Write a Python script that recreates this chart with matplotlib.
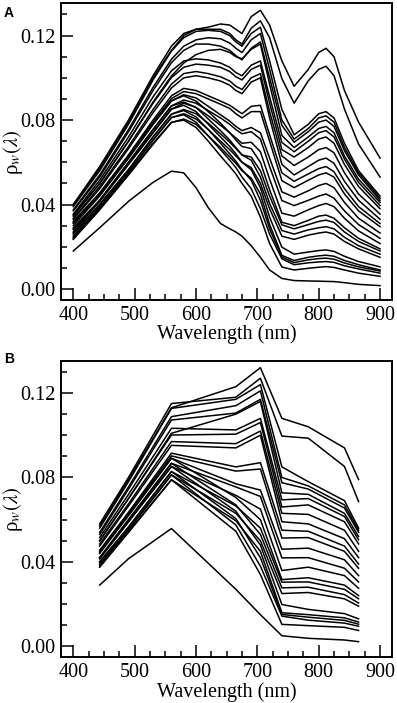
import numpy as np
import matplotlib.pyplot as plt
from matplotlib.ticker import MultipleLocator, FormatStrFormatter

plt.rcParams['font.family'] = ['Liberation Serif', 'DejaVu Serif']
plt.rcParams['mathtext.fontset'] = 'stix'

# sampling wavelengths (nm) of the in situ spectra
wavelength = [400, 443, 490, 530, 560, 580, 600, 620, 640, 655, 665, 675,
              690, 705, 720, 740, 760, 783, 800, 812, 825, 842, 865, 900]

# Sentinel-2 MSI band centres used in panel B
msi_bands = [443, 490, 560, 665, 705, 740, 783, 842, 865]

# rho_w x 1000, one row per station
rho_w_x1000 = [
    [40, 57, 79, 100, 113, 120, 123, 124, 125.5, 125, 123, 121, 129, 132, 125, 108, 96, 104, 112, 114, 110, 94, 79, 62],
    [40, 58, 80, 101, 115, 121, 123, 123, 123, 121, 118, 116, 123.5, 127, 119, 99.6, 88, 98.6, 104, 105.5, 101, 85.2, 68.6, 53],
    [39, 56, 78, 99, 112.7, 119, 122, 122.5, 122, 120, 117, 115, 121, 124, 108, 85, 73, 78, 83, 84, 81, 69, 56, 44],
    [37.5, 54, 75.5, 95.5, 108.8, 115, 118, 119, 118.5, 116.5, 114, 112, 118, 121, 104, 80, 71, 76, 81, 82, 79, 67, 55, 43],
    [37, 53, 74.5, 94, 107.2, 113, 116, 116, 115, 113, 110.5, 108.5, 114, 117, 100, 77.5, 69.5, 74.5, 79, 80, 77, 65.5, 54, 42],
    [35, 50, 70, 88.5, 100.9, 107, 111, 113, 113.5, 112, 110, 109, 113.5, 116, 97, 72.7, 67, 72, 76, 77, 74, 63, 52, 41],
    [35.5, 51.5, 72, 91, 103.3, 108, 109, 108.5, 107, 105, 102.5, 101, 106, 108, 91, 69.4, 65, 70, 74, 75, 72, 61.5, 50.5, 39.5],
    [34.5, 50, 70, 88, 100.1, 105, 106.5, 106, 105, 103, 100.5, 99, 104, 106, 88, 66, 62.5, 67, 71, 72, 69, 59, 48.5, 38],
    [33.5, 48.5, 67.5, 85, 97, 102, 103, 102, 100.5, 98.5, 96, 94.5, 100, 102, 84, 63, 58.5, 62.5, 66, 67, 64.5, 55, 45, 35.5],
    [33, 47.5, 66.5, 83.5, 95.2, 100, 101, 100, 98.5, 96.5, 94, 92.5, 98, 100, 81, 59, 54, 58, 61, 62, 59.5, 51, 42, 33],
    [32, 45.5, 63.5, 80, 91.5, 95, 94, 91.5, 89, 87, 85, 83, 86.5, 87, 73, 55, 51, 54.5, 57, 58, 55.5, 47.5, 39, 31],
    [31.5, 45, 63, 79, 90.2, 93.5, 92.5, 90, 87.5, 85.5, 83, 81, 84, 84, 70, 51.3, 48, 51.5, 54, 55, 53, 45, 37, 29.5],
    [31, 44.5, 62, 78, 89.1, 92, 90.5, 86.5, 82.5, 79.5, 77, 75, 76.5, 74, 62, 46, 43.5, 46.5, 49, 50, 48, 41, 33.5, 26.5],
    [29, 42, 60, 75.5, 86.7, 89.5, 88, 84.5, 81, 78, 75.5, 73.5, 74.5, 71, 58, 41.9, 39.5, 42, 44, 45, 43, 37, 30.5, 24],
    [28.5, 41.5, 59, 74, 85.2, 88, 86, 82, 77.5, 74, 71.5, 69, 69.5, 65, 52, 35.9, 34.5, 37.5, 39.5, 40.5, 39, 33.5, 27.5, 21.5],
    [30, 44, 62, 78, 89.1, 91.5, 89, 84, 78.5, 74, 70.5, 67.5, 66.5, 60, 47, 31.6, 30, 32.5, 34.5, 35, 33.5, 29, 24, 19],
    [26.5, 40, 56.5, 72, 82.8, 85, 83, 78.5, 73.5, 69.5, 66.5, 63.5, 62.5, 56, 44, 30.4, 28.5, 30.5, 32, 32.6, 31.5, 27, 22.5, 18],
    [28, 42, 60, 75.5, 86.7, 88.5, 86, 80.5, 75, 70.5, 67, 63.5, 61, 53, 40.5, 27.7, 26, 28, 29, 29.5, 28.5, 24.5, 20.5, 16.5],
    [25, 39, 55.5, 70.5, 81.2, 83, 80.5, 75.5, 70, 66, 63, 60, 57.5, 50, 38, 25, 23.5, 25.5, 26.5, 27, 26, 22.5, 19, 15],
    [27, 41.5, 59, 74, 85.2, 87, 84, 78, 72, 67.5, 64, 60, 56.5, 48, 34, 19.8, 16.5, 17.5, 18.2, 18.5, 17.8, 15.5, 13, 10.5],
    [23.5, 37.5, 54, 68.5, 78.9, 80.5, 78, 72.5, 67, 62.5, 59.5, 56, 52.5, 45, 30.5, 15.9, 13.5, 15, 15.7, 16, 15.5, 13.5, 11.5, 9],
    [26, 40, 56.5, 72, 82.8, 84.5, 81.5, 75.5, 69, 64, 60.5, 56.5, 51.5, 42, 28.5, 15.1, 12.5, 13.8, 14.4, 14.6, 14.1, 12.3, 10.5, 8.5],
    [24.5, 38.5, 55, 70.5, 81.2, 82.5, 79, 72.5, 66, 61, 57.5, 53, 47.5, 38, 26, 14.3, 11.5, 12.4, 12.8, 13, 12.6, 11, 9.5, 7.5],
    [24, 37.7, 54.2, 69, 78.9, 80, 76.5, 70, 63, 58, 54.5, 50, 44, 34, 21.5, 10.4, 9, 9.8, 10.3, 10.6, 10.2, 9, 7.5, 6],
    [18, 29, 41.5, 50.5, 55.8, 55, 48, 38.5, 31, 28.5, 27, 25, 20.5, 15, 9, 5, 4, 3.8, 3.7, 3.6, 3.5, 3, 2.2, 1.6],
]

spectra = np.array(rho_w_x1000) / 1000.0
band_idx = [wavelength.index(b) for b in msi_bands]

fig = plt.figure(figsize=(3.97, 7.03), dpi=100)
ax_a = fig.add_axes([0.1537, 0.5733, 0.8345, 0.4220])
ax_b = fig.add_axes([0.1537, 0.0650, 0.8345, 0.4219])

for s in spectra:
    ax_a.plot(wavelength, s, color='k', lw=1.1)
    ax_b.plot(msi_bands, s[band_idx], color='k', lw=1.1)

for ax in (ax_a, ax_b):
    ax.set_xlim(380, 920)
    ax.set_ylim(-0.0052, 0.1353)
    ax.xaxis.set_major_locator(MultipleLocator(100))
    ax.xaxis.set_minor_locator(MultipleLocator(25))
    ax.yaxis.set_major_locator(MultipleLocator(0.04))
    ax.yaxis.set_minor_locator(MultipleLocator(0.01))
    ax.yaxis.set_major_formatter(FormatStrFormatter('%.2f'))
    ax.tick_params(which='both', direction='in', top=False, right=False,
                   labelsize=14.5, width=1.1, pad=4)
    ax.tick_params(which='major', length=8.5)
    ax.tick_params(which='minor', length=4.5)
    for sp in ax.spines.values():
        sp.set_linewidth(1.4)
    ax.set_xlabel('Wavelength (nm)', fontsize=14.5, labelpad=0)
    ax.set_ylabel(r'ρ$_w(\lambda)$', fontsize=15)
    ax.yaxis.set_label_coords(-0.108, 0.5)

fig.text(0.01, 1 - 6 / 703, 'A', family='Liberation Sans', weight='bold',
         fontsize=10, va='top', ha='left')
fig.text(0.01, 1 - 352 / 703, 'B', family='Liberation Sans', weight='bold',
         fontsize=10, va='top', ha='left')

fig.savefig('out.png', dpi=100)
